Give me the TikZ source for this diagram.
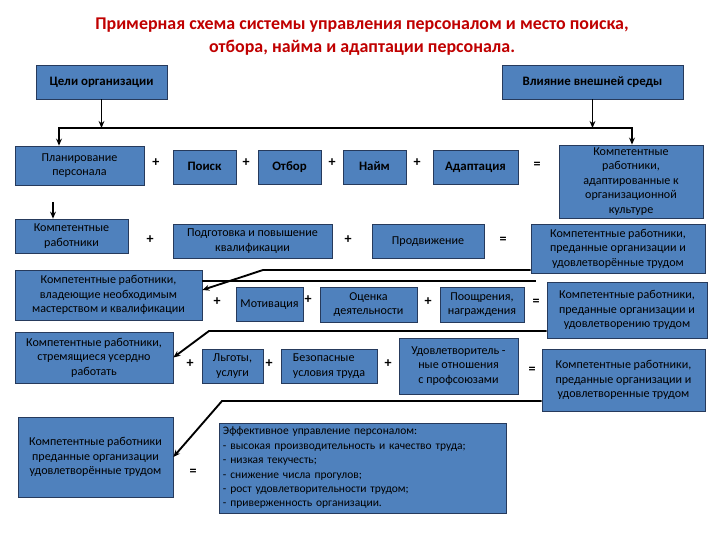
\documentclass[tikz,border=0pt]{standalone}
\usepackage{fontspec}
\setmainfont{Carlito}
\usetikzlibrary{arrows.meta,positioning}
\definecolor{boxblue}{RGB}{79,129,189}
\definecolor{boxline}{RGB}{38,58,92}
\definecolor{titlered}{RGB}{192,0,0}
\newcommand\pxu{0.03cm}

\begin{document}
\begin{tikzpicture}[x=\pxu, y=-\pxu, >={Stealth[length=6pt,width=5pt]},
  box/.style 2 args={draw=boxline, fill=boxblue, line width=0.6pt, align=center, inner sep=2pt,
    minimum width=#1*\pxu, minimum height=#2*\pxu, font=\fontsize{10.3}{12.3}\selectfont},
  bbox/.style 2 args={box={#1}{#2}, font=\bfseries\fontsize{11}{13}\selectfont, one},
  one/.style={text height=7.5pt, text depth=2pt},
  op/.style={font=\bfseries\fontsize{12}{14}\selectfont},
  link/.style={line width=1.6pt}]
\fill[white] (0,0) rectangle (720,540);
\node[font=\bfseries\fontsize{15.3}{19.5}\selectfont, text=titlered, align=center] (title) at (362,37)
  {Примерная схема системы управления персоналом и место поиска,\\отбора, найма и адаптации персонала.};
\node[bbox={131}{34}] (goals) at (101.5,82) {Цели организации};
\node[bbox={181}{34}] (env) at (592.5,82) {Влияние внешней среды};
% row 1
\node[box={129}{39}] (plan) at (79.5,165.5) {Планирование\\персонала};
\node[bbox={63}{34}] (search) at (204.5,167) {Поиск};
\node[bbox={63}{34}] (select) at (289.5,167) {Отбор};
\node[bbox={63}{34}] (hire) at (374.5,167) {Найм};
\node[bbox={85}{34}] (adapt) at (475.5,167) {Адаптация};
\node[box={144}{73}] (res1) at (631,181.5) {Компетентные\\работники,\\адаптированные к\\организационной\\культуре};
\node[op] (p1a) at (156,163) {+};
\node[op] (p1b) at (246,163) {+};
\node[op] (p1c) at (332,163) {+};
\node[op] (p1d) at (417,163) {+};
\node[op] (e1) at (537,165) {=};
% row 2
\node[box={113}{34}] (comp) at (71.5,236) {Компетентные\\работники};
\node[box={159}{34}] (train) at (252.5,241) {Подготовка и повышение\\квалификации};
\node[box={112}{34}, one] (promo) at (428,241) {Продвижение};
\node[box={174}{49}] (res2) at (618,248.5) {Компетентные работники,\\преданные организации и\\удовлетворённые трудом};
\node[op] (p2a) at (150,240) {+};
\node[op] (p2b) at (348,240) {+};
\node[op] (e2) at (503,240) {=};
% row 3
\node[box={187}{50}] (skill) at (108.5,295) {Компетентные работники,\\владеющие необходимым\\мастерством и квалификации};
\node[box={67}{34}, one] (motiv) at (269.5,304) {Мотивация};
\node[box={97}{35}] (eval) at (368.5,304.5) {Оценка\\деятельности};
\node[box={84}{35}] (reward) at (482,304.5) {Поощрения,\\награждения};
\node[box={160}{56}] (res3) at (627,310) {Компетентные работники,\\преданные организации и\\удовлетворению трудом};
\node[op] (p3a) at (217,302) {+};
\node[op] (p3b) at (308,300) {+};
\node[op] (p3c) at (428,302) {+};
\node[op] (e3) at (536,302) {=};
% row 4
\node[box={158}{51}] (diligent) at (94,357.5) {Компетентные работники,\\стремящиеся усердно\\работать};
\node[box={61}{34}] (benefit) at (232.5,366) {Льготы,\\услуги};
\node[box={96}{34}, align=left] (safe) at (329,366) {Безопасные\\условия труда};
\node[box={119}{56}] (union) at (458.5,366) {Удовлетворитель -\\ные отношения\\с профсоюзами};
\node[box={163}{62}] (res4) at (623.5,380) {Компетентные работники,\\преданные организации и\\удовлетворенные трудом};
\node[op] (p4a) at (190,364) {+};
\node[op] (p4b) at (269,364) {+};
\node[op] (p4c) at (388,364) {+};
\node[op] (e4) at (532,370) {=};
% result
\node[box={155}{80}] (final) at (95.5,457) {Компетентные работники\\преданные организации\\удовлетворённые трудом};
\node[op] (e5) at (193,472) {=};
\node[box={286}{90}, align=left, text width=8.4cm, inner sep=3pt, font=\fontsize{9.8}{12.3}\selectfont] (effect) at (363,468)
  {Эффективное управление персоналом:\\
   - высокая производительность и качество труда;\\
   - низкая текучесть;\\
   - снижение числа прогулов;\\
   - рост удовлетворительности трудом;\\
   - приверженность организации.};
% connectors
\coordinate (busL) at (59,128);
\coordinate (busR) at (632,128);
\draw[link,->] (goals) -- (goals |- busL);
\draw[link,->] (env) -- (env |- busR);
\draw[link,<->] (busL |- plan.north) -- (busL) -- (busR) -- (busR |- res1.north);
\coordinate (planout) at (53,202);
\draw[link,->] (planout) -- (planout |- comp.north);
\coordinate (k1) at (263,270);
\draw[link,->] (res2.west |- k1) -- (k1) -- ([yshift=0.15cm]skill.east);
\coordinate (k2) at (536,281);
\draw[link] (skill.east |- k2) -- (k2);
\coordinate (k3) at (209,331);
\draw[link,->] (res3.west |- k3) -- (k3) -- (diligent.east);
\coordinate (k4) at (222,401);
\draw[link,->] (res4.west |- k4) -- (k4) -- (final.east);
\end{tikzpicture}
\end{document}
